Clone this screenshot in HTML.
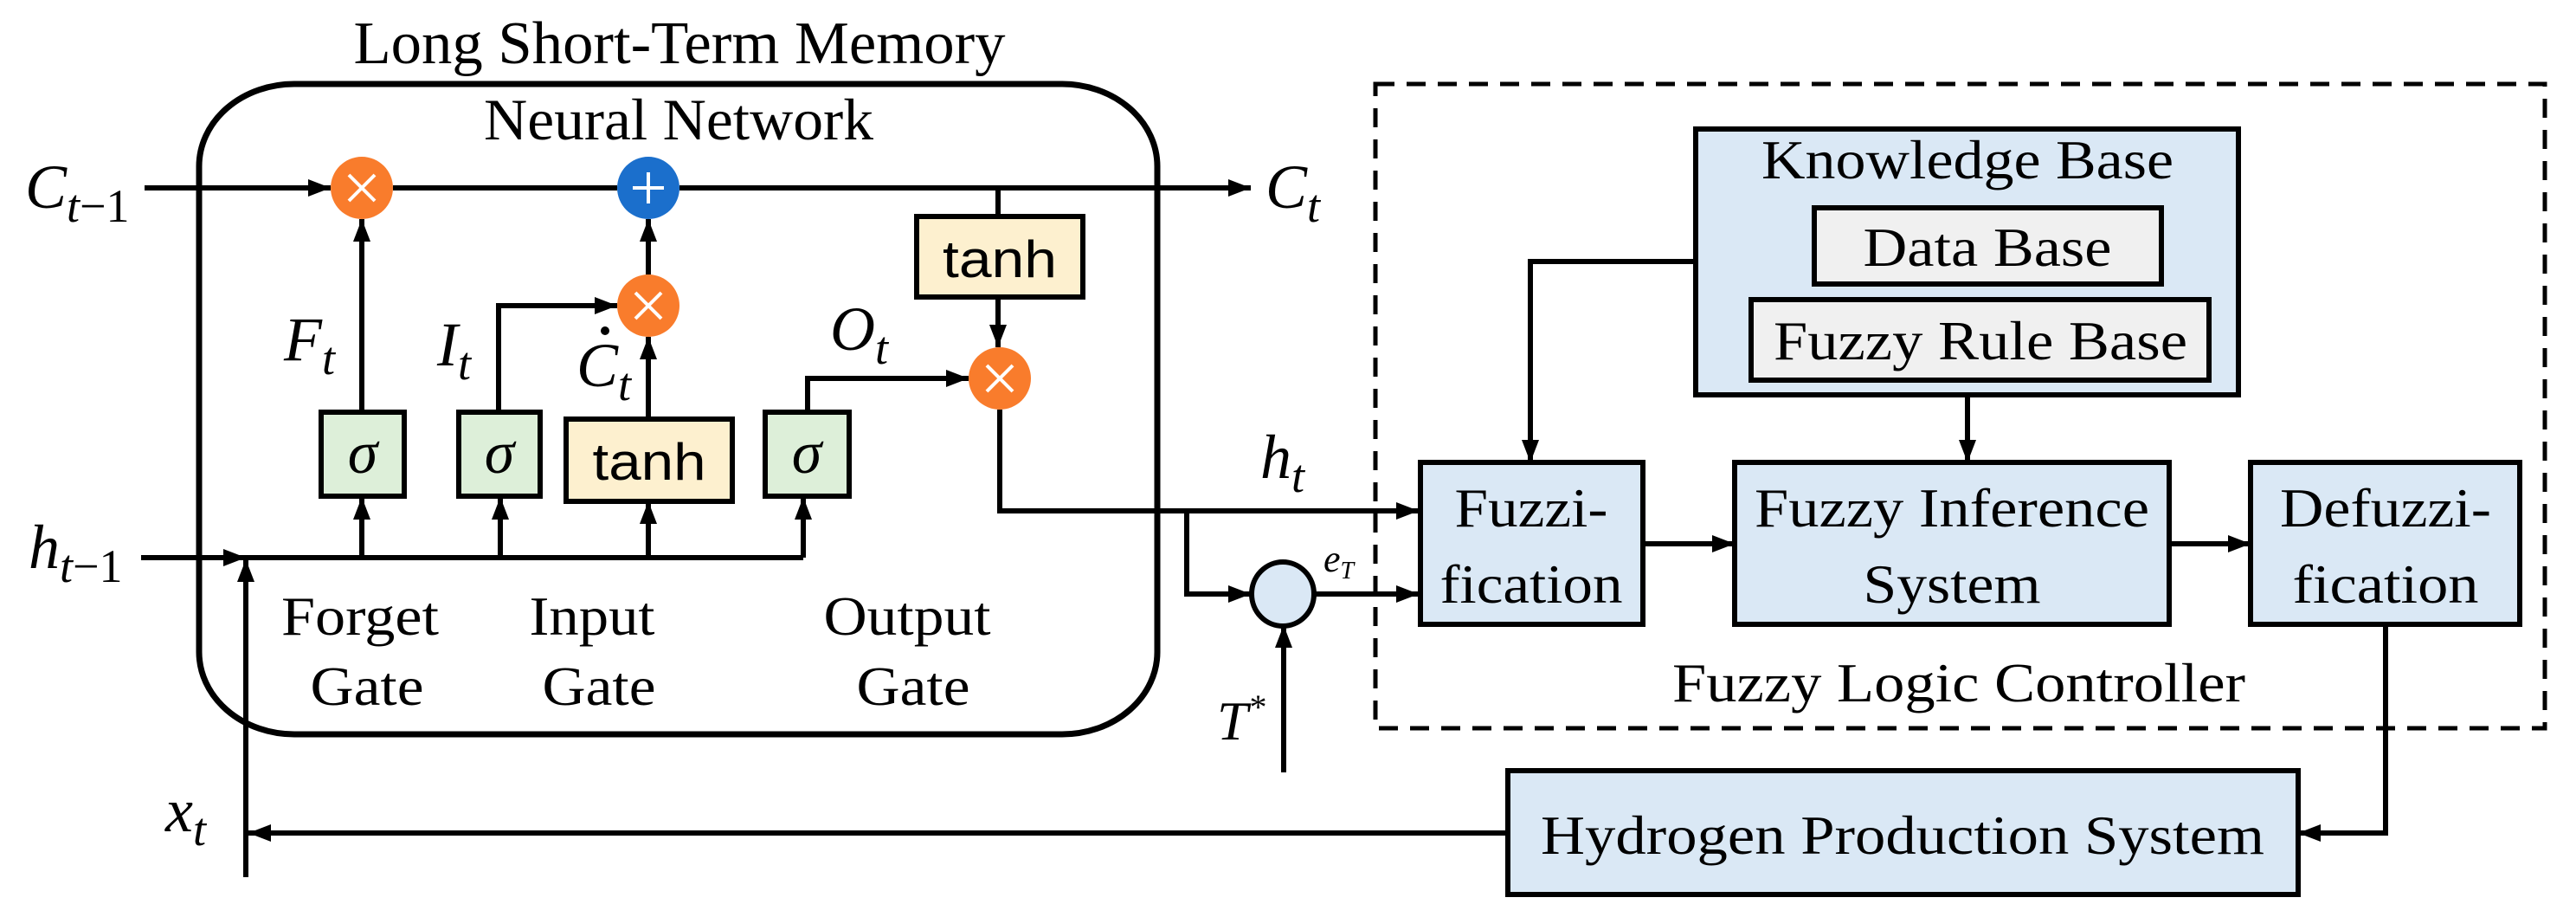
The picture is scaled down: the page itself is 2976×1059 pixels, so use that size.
<!DOCTYPE html>
<html><head><meta charset="utf-8"><style>
html,body{margin:0;padding:0;background:#fff}
svg{display:block}
text{font-family:"Liberation Serif",serif;fill:#000}
.s{font-family:"Liberation Sans",sans-serif}
.m{font-style:italic}
</style></head><body>
<svg width="2976" height="1059" viewBox="0 0 2976 1059" xmlns="http://www.w3.org/2000/svg">
<defs>
<marker id="a" markerUnits="userSpaceOnUse" markerWidth="28" markerHeight="22" refX="26" refY="10" orient="auto">
<path d="M0,0 L26,10 L0,20 z" fill="#000"/></marker>
</defs>
<g fill="none" stroke="#000" stroke-width="6">
<rect x="230" y="97" width="1107" height="751" rx="110" ry="95" stroke-width="7"/>
<rect x="1589" y="97" width="1351" height="744" stroke-width="5" stroke-dasharray="22,14"/>
<path d="M167 217 L382 217" marker-end="url(#a)"/>
<path d="M454 217 L713 217"/>
<path d="M785 217 L1445 217" marker-end="url(#a)"/>
<path d="M1153 217 L1153 250"/>
<path d="M1153 343 L1153 401" marker-end="url(#a)"/>
<path d="M1155 473 L1155 590 L1639 590" marker-end="url(#a)"/>
<path d="M1371 590 L1371 686 L1445 686" marker-end="url(#a)"/>
<path d="M1519 686 L1639 686" marker-end="url(#a)"/>
<path d="M1483 892 L1483 722" marker-end="url(#a)"/>
<path d="M418 476 L418 253" marker-end="url(#a)"/>
<path d="M576 476 L576 353 L713 353" marker-end="url(#a)"/>
<path d="M749 484 L749 389" marker-end="url(#a)"/>
<path d="M749 317 L749 253" marker-end="url(#a)"/>
<path d="M933 476 L933 437 L1119 437" marker-end="url(#a)"/>
<path d="M163 644 L284 644" marker-end="url(#a)"/>
<path d="M284 644 L928 644"/>
<path d="M418 644 L418 574" marker-end="url(#a)"/>
<path d="M578 644 L578 574" marker-end="url(#a)"/>
<path d="M749 644 L749 579" marker-end="url(#a)"/>
<path d="M928 644 L928 574" marker-end="url(#a)"/>
<path d="M284 1013 L284 646" marker-end="url(#a)"/>
<path d="M1742 962 L287 962" marker-end="url(#a)"/>
<path d="M1959 302 L1768 302 L1768 534" marker-end="url(#a)"/>
<path d="M2273 456 L2273 534" marker-end="url(#a)"/>
<path d="M1898 628 L2004 628" marker-end="url(#a)"/>
<path d="M2506 628 L2600 628" marker-end="url(#a)"/>
<path d="M2756 721 L2756 962 L2655 962" marker-end="url(#a)"/>
</g>
<g stroke="#000" stroke-width="6">
<rect x="1059" y="250" width="192" height="93" fill="#fdf0cf"/>
<rect x="654" y="484" width="192" height="95" fill="#fdf0cf"/>
<rect x="371" y="476" width="96" height="97" fill="#ddefd9"/>
<rect x="530" y="476" width="94" height="97" fill="#ddefd9"/>
<rect x="884" y="476" width="97" height="97" fill="#ddefd9"/>
<rect x="1959" y="149" width="627" height="307" fill="#dae8f5"/>
<rect x="2096" y="240" width="401" height="88" fill="#f0f0f0"/>
<rect x="2023" y="346" width="529" height="93" fill="#f0f0f0"/>
<rect x="1641" y="534" width="257" height="187" fill="#dae8f5"/>
<rect x="2004" y="534" width="502" height="187" fill="#dae8f5"/>
<rect x="2600" y="534" width="311" height="187" fill="#dae8f5"/>
<rect x="1742" y="890" width="913" height="143" fill="#dae8f5"/>
<ellipse cx="1482" cy="686" rx="36" ry="37" fill="#dae8f5" stroke-width="6"/>
</g>
<g>
<circle cx="418" cy="217" r="36" fill="#f97c2c"/>
<circle cx="749" cy="353" r="36" fill="#f97c2c"/>
<circle cx="1155" cy="437" r="36" fill="#f97c2c"/>
<circle cx="749" cy="217" r="36" fill="#1b6fcc"/>
</g>
<g stroke="#fff" stroke-width="4">
<path d="M403 202 L433 232 M433 202 L403 232"/>
<path d="M734 338 L764 368 M764 338 L734 368"/>
<path d="M1140 422 L1170 452 M1170 422 L1140 452"/>
<path d="M749 199 L749 235 M731 217 L767 217"/>
</g>
<text x="785" y="73" font-size="70" text-anchor="middle" textLength="753" lengthAdjust="spacingAndGlyphs">Long Short-Term Memory</text>
<text x="784" y="161" font-size="68" text-anchor="middle" textLength="450" lengthAdjust="spacingAndGlyphs">Neural Network</text>
<text class="s" x="1155" y="320" font-size="60" text-anchor="middle" textLength="132" lengthAdjust="spacingAndGlyphs">tanh</text>
<text class="s" x="750" y="554" font-size="60" text-anchor="middle" textLength="131" lengthAdjust="spacingAndGlyphs">tanh</text>
<text class="m" x="419" y="546" font-size="70" text-anchor="middle">σ</text>
<text class="m" x="577" y="546" font-size="70" text-anchor="middle">σ</text>
<text class="m" x="932" y="546" font-size="70" text-anchor="middle">σ</text>
<text x="416" y="733" font-size="64" text-anchor="middle" textLength="182" lengthAdjust="spacingAndGlyphs">Forget</text>
<text x="424" y="814" font-size="64" text-anchor="middle" textLength="131" lengthAdjust="spacingAndGlyphs">Gate</text>
<text x="684" y="733" font-size="64" text-anchor="middle" textLength="145" lengthAdjust="spacingAndGlyphs">Input</text>
<text x="692" y="814" font-size="64" text-anchor="middle" textLength="131" lengthAdjust="spacingAndGlyphs">Gate</text>
<text x="1048" y="733" font-size="64" text-anchor="middle" textLength="193" lengthAdjust="spacingAndGlyphs">Output</text>
<text x="1055" y="814" font-size="64" text-anchor="middle" textLength="131" lengthAdjust="spacingAndGlyphs">Gate</text>
<text class="m" x="29" y="240" font-size="72">C<tspan font-size="54" dy="16">t</tspan><tspan font-size="54" font-style="normal">−1</tspan></text>
<text class="m" x="1462" y="240" font-size="72">C<tspan font-size="54" dy="16">t</tspan></text>
<text class="m" x="33" y="656" font-size="72">h<tspan font-size="54" dy="16">t</tspan><tspan font-size="54" font-style="normal">−1</tspan></text>
<text class="m" x="1456" y="552" font-size="72">h<tspan font-size="54" dy="16">t</tspan></text>
<text class="m" x="191" y="960" font-size="72">x<tspan font-size="54" dy="16">t</tspan></text>
<text class="m" x="328" y="416" font-size="72">F<tspan font-size="54" dy="16">t</tspan></text>
<text class="m" x="505" y="422" font-size="72">I<tspan font-size="54" dy="16">t</tspan></text>
<text class="m" x="666" y="446" font-size="72">C<tspan font-size="54" dy="16">t</tspan></text>
<circle cx="699" cy="382" r="5" fill="#000"/>
<text class="m" x="959" y="404" font-size="72">O<tspan font-size="54" dy="16">t</tspan></text>
<text class="m" x="1529" y="660" font-size="44">e<tspan font-size="28" dy="8">T</tspan></text>
<text class="m" x="1406" y="854" font-size="64">T<tspan font-size="40" dy="-24">*</tspan></text>
<text x="2273" y="206" font-size="64" text-anchor="middle" textLength="476" lengthAdjust="spacingAndGlyphs">Knowledge Base</text>
<text x="2296" y="307" font-size="64" text-anchor="middle" textLength="287" lengthAdjust="spacingAndGlyphs">Data Base</text>
<text x="2288" y="415" font-size="64" text-anchor="middle" textLength="478" lengthAdjust="spacingAndGlyphs">Fuzzy Rule Base</text>
<text x="1769" y="608" font-size="64" text-anchor="middle" textLength="177" lengthAdjust="spacingAndGlyphs">Fuzzi-</text>
<text x="1769" y="696" font-size="64" text-anchor="middle" textLength="211" lengthAdjust="spacingAndGlyphs">fication</text>
<text x="2255" y="608" font-size="64" text-anchor="middle" textLength="456" lengthAdjust="spacingAndGlyphs">Fuzzy Inference</text>
<text x="2255" y="696" font-size="64" text-anchor="middle" textLength="205" lengthAdjust="spacingAndGlyphs">System</text>
<text x="2756" y="608" font-size="64" text-anchor="middle" textLength="244" lengthAdjust="spacingAndGlyphs">Defuzzi-</text>
<text x="2756" y="696" font-size="64" text-anchor="middle" textLength="215" lengthAdjust="spacingAndGlyphs">fication</text>
<text x="2263" y="810" font-size="64" text-anchor="middle" textLength="662" lengthAdjust="spacingAndGlyphs">Fuzzy Logic Controller</text>
<text x="2198" y="986" font-size="64" text-anchor="middle" textLength="836" lengthAdjust="spacingAndGlyphs">Hydrogen Production System</text>
</svg>
</body></html>
